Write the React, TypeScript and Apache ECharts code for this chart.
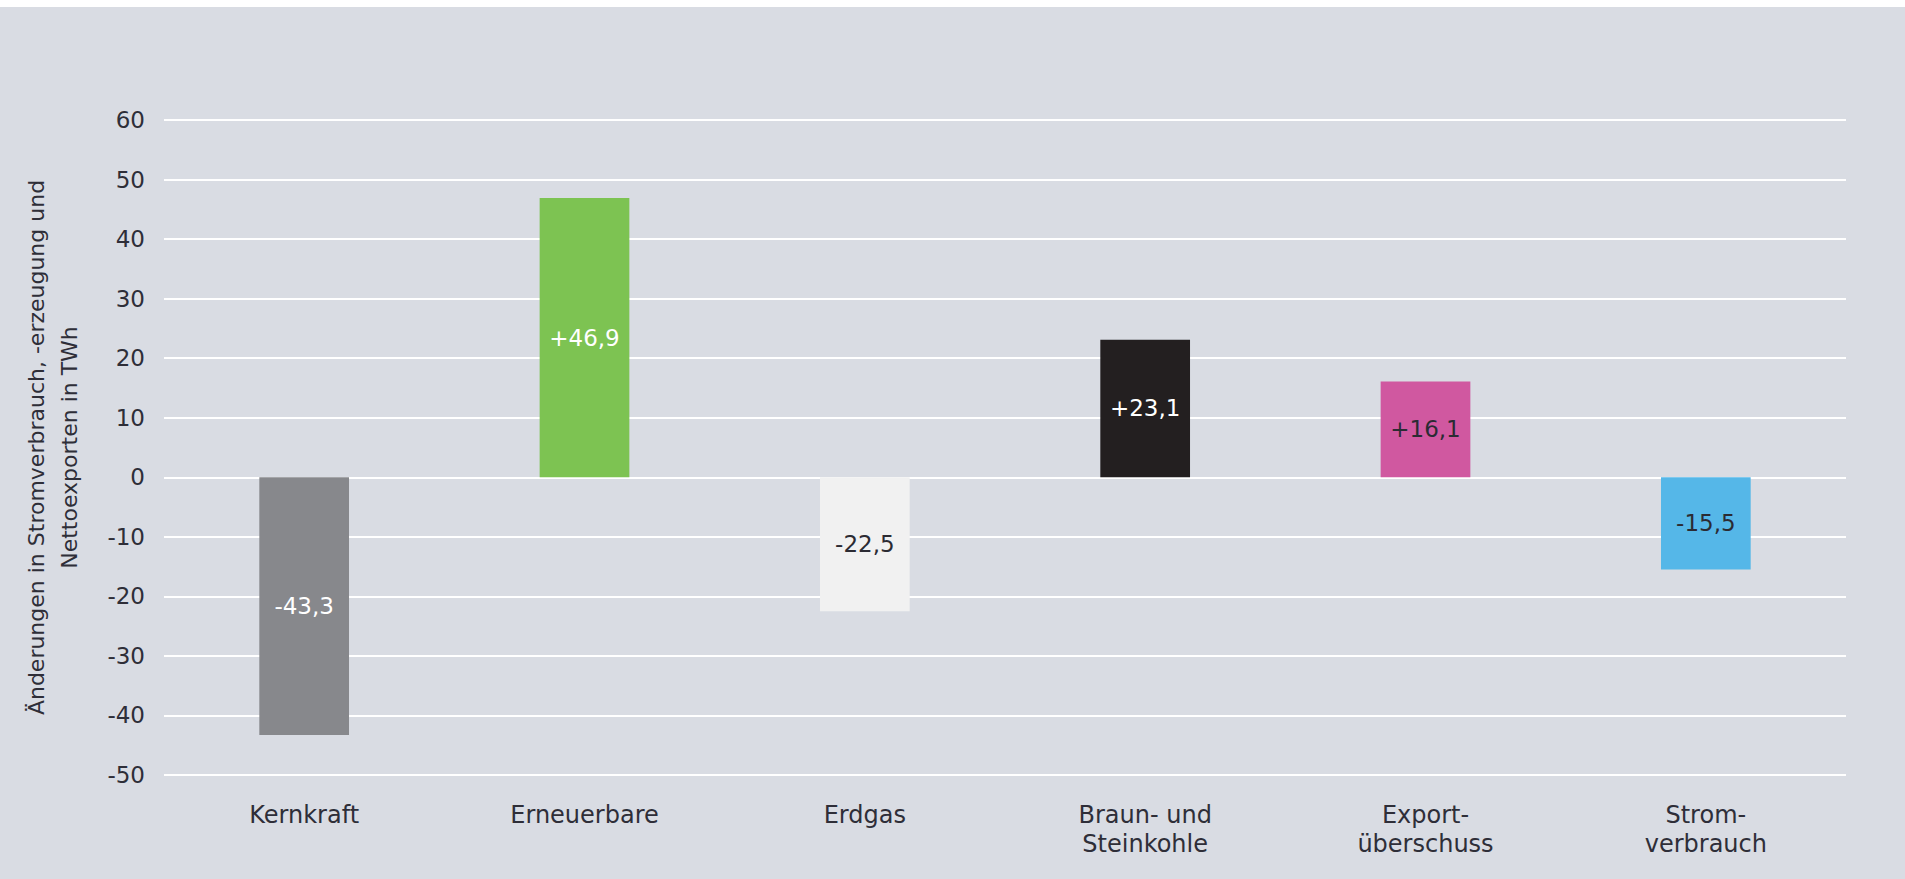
import React, { useEffect, useRef } from "react";
import * as echarts from "echarts";

const categories = [
  "Kernkraft",
  "Erneuerbare",
  "Erdgas",
  "Braun- und\nSteinkohle",
  "Export-\nüberschuss",
  "Strom-\nverbrauch",
];
const values = [-43.3, 46.9, -22.5, 23.1, 16.1, -15.5];

const barColors = ["#87888c", "#7dc352", "#f1f1f1", "#231f20", "#d058a0", "#55b7e8"];
const labelColors = ["#ffffff", "#ffffff", "#2b2b33", "#ffffff", "#2b2b33", "#2b2b33"];

const yMin = -50;
const yMax = 60;
const yInterval = 10;
const yAxisName = "Änderungen in Stromverbrauch, -erzeugung und\nNettoexporten in TWh";

const FONT = "DejaVu Sans";
const TEXT = "#2e2e38";

function fmt(v: number): string {
  const s = Math.abs(v).toFixed(1).replace(".", ",");
  return (v > 0 ? "+" : "-") + s;
}

export default function App() {
  const ref = useRef<HTMLDivElement>(null);
  useEffect(() => {
    if (!ref.current) return;
    const chart = echarts.init(ref.current, undefined, { renderer: "svg" });
    chart.setOption({
      animation: false,
      backgroundColor: "#d9dce3",
      textStyle: { fontFamily: FONT },
      graphic: [
        {
          type: "rect",
          shape: { x: 0, y: 0, width: 1905, height: 7 },
          style: { fill: "#ffffff" },
          silent: true,
        },
      ],
      grid: { left: 164, right: 59, top: 120, bottom: 104, containLabel: false },
      xAxis: {
        type: "category",
        data: categories,
        axisLine: { show: false },
        axisTick: { show: false },
        axisLabel: {
          color: TEXT,
          fontFamily: FONT,
          fontSize: 24,
          lineHeight: 29,
          margin: 25,
          interval: 0,
        },
        splitLine: { show: false },
      },
      yAxis: {
        type: "value",
        min: yMin,
        max: yMax,
        interval: yInterval,
        name: yAxisName,
        nameLocation: "middle",
        nameGap: 78,
        nameTextStyle: {
          color: TEXT,
          fontFamily: FONT,
          fontSize: 22,
          lineHeight: 33,
        },
        axisLine: { show: false },
        axisTick: { show: false },
        axisLabel: {
          color: TEXT,
          fontFamily: FONT,
          fontSize: 23,
          margin: 19,
        },
        splitLine: { show: true, lineStyle: { color: "#ffffff", width: 2 } },
      },
      series: [
        {
          type: "bar",
          barWidth: "32%",
          data: values.map((v, i) => ({
            value: v,
            itemStyle: { color: barColors[i] },
            label: { color: labelColors[i] },
          })),
          label: {
            show: true,
            position: "inside",
            fontFamily: FONT,
            fontSize: 23,
            formatter: (p: any) => fmt(p.value),
          },
          z: 3,
        },
      ],
    });
    return () => chart.dispose();
  }, []);
  return (
    <div
      ref={ref}
      style={{ position: "absolute", left: 0, top: 0, width: 1905, height: 879 }}
    />
  );
}
